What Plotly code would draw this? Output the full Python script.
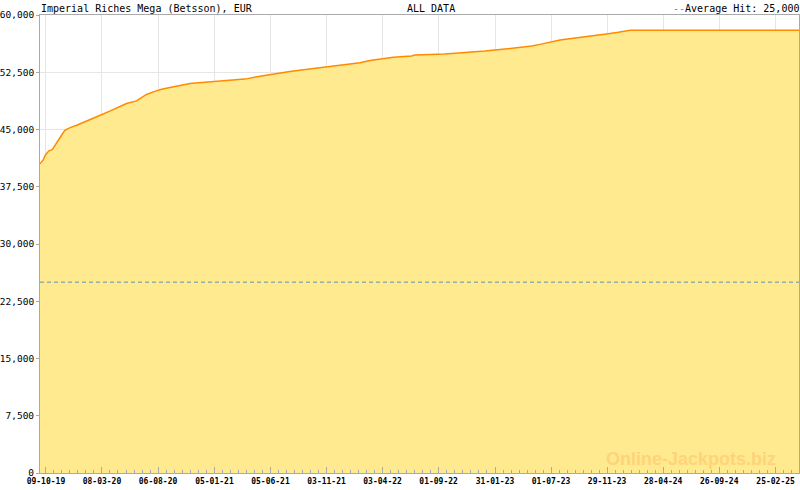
import plotly.graph_objects as go
import pandas as pd

dates = ["2019-09-23", "2019-10-02", "2019-10-08", "2019-10-17", "2019-10-26", "2019-11-02",
         "2019-11-11", "2019-11-20", "2019-11-29", "2019-12-13", "2019-12-31", "2020-01-27",
         "2020-02-23", "2020-03-03", "2020-03-29", "2020-04-25", "2020-05-13", "2020-06-09",
         "2020-06-18", "2020-07-06", "2020-07-24", "2020-08-16", "2020-09-07", "2020-10-04",
         "2020-10-31", "2020-12-02", "2021-01-06", "2021-02-20", "2021-03-28", "2021-05-08",
         "2021-06-04", "2021-07-01", "2021-07-27", "2021-08-28", "2021-10-03", "2021-11-03",
         "2021-11-30", "2022-01-05", "2022-02-01", "2022-02-28", "2022-03-27", "2022-05-02",
         "2022-06-20", "2022-06-29", "2022-09-18", "2022-11-02", "2022-12-03", "2023-01-04",
         "2023-01-31", "2023-03-03", "2023-03-30", "2023-04-22", "2023-05-10", "2023-06-01",
         "2023-06-28", "2023-07-07", "2023-07-25", "2023-08-30", "2023-09-30", "2023-11-01",
         "2023-12-02", "2023-12-29", "2024-01-21", "2024-01-30", "2025-04-29"]
jackpot = [40500, 41050, 41700, 42200, 42370, 42930, 43680, 44250, 44900, 45250, 45560, 46080,
           46650, 46870, 47400, 47960, 48400, 48750, 49060, 49590, 49930, 50280, 50510, 50810,
           51030, 51160, 51300, 51430, 51600, 51990, 52210, 52480, 52610, 52780, 53000, 53270,
           53440, 53610, 53740, 54050, 54220, 54450, 54620, 54750, 54880, 55010, 55140, 55270,
           55400, 55540, 55670, 55800, 55930, 56150, 56420, 56550, 56720, 56940, 57110, 57340,
           57550, 57730, 57900, 57990, 57990]
average_hit = 25000
x_ticks = ["2019-10-09", "2020-03-08", "2020-08-06", "2021-01-05", "2021-06-05", "2021-11-03",
           "2022-04-03", "2022-09-01", "2023-01-31", "2023-07-01", "2023-11-29", "2024-04-28",
           "2024-09-26", "2025-02-25"]
y_ticks = [0, 7500, 15000, 22500, 30000, 37500, 45000, 52500, 60000]
x_range = ["2019-09-23", "2025-04-29"]

# minor ticks: 7 subdivisions between major ticks
maj = pd.to_datetime(x_ticks)
minor_vals = []
for a, b in zip(maj[:-1], maj[1:]):
    for k in range(1, 7):
        minor_vals.append((a + (b - a) * k / 7).strftime("%Y-%m-%d %H:%M"))
step = (maj[-1] - maj[-2]) / 7
t = maj[-1] + step
while t <= pd.Timestamp(x_range[1]):
    minor_vals.append(t.strftime("%Y-%m-%d %H:%M"))
    t += step

FONT = "DejaVu Sans Mono"
GRID = "#e6e6e6"
AX = "#aaaaaa"
DASH = "#5a94b4"

fig = go.Figure()
fig.add_trace(go.Scatter(
    x=dates, y=jackpot, mode="lines", line=dict(color="#ff8a00", width=1.5, shape="linear"),
    fill="tozeroy", fillcolor="#ffea8f", hoverinfo="skip", showlegend=False))
fig.add_trace(go.Scatter(
    x=x_range, y=[average_hit, average_hit], mode="lines",
    line=dict(color=DASH, width=1, dash="4px,3px"), hoverinfo="skip", showlegend=False))

fig.update_layout(
    width=800, height=490,
    margin=dict(l=40, r=1, t=15, b=17, autoexpand=False),
    paper_bgcolor="white", plot_bgcolor="white",
    font=dict(family=FONT, size=10, color="#000"),
    xaxis=dict(
        type="date", range=x_range, tickmode="array", tickvals=x_ticks, tickformat="%d-%m-%y",
        showgrid=True, gridcolor=GRID, gridwidth=1, automargin=False,
        showline=True, linecolor=AX, linewidth=1, mirror=True,
        ticks="inside", ticklen=6, tickcolor=AX,
        tickfont=dict(family=FONT, size=8, weight="bold", color="#000"),
        minor=dict(tickmode="array", tickvals=minor_vals, ticks="inside", ticklen=3,
                   tickcolor=AX, showgrid=False),
        zeroline=False, fixedrange=True),
    yaxis=dict(
        range=[0, 60000], tickmode="array", tickvals=y_ticks, tickformat=",",
        showgrid=True, gridcolor=GRID, gridwidth=1, automargin=False,
        showline=True, linecolor=AX, linewidth=1, mirror=True,
        ticks="outside", ticklen=3, tickcolor=AX,
        tickfont=dict(family=FONT, size=9.5, color="#000"),
        zeroline=False, fixedrange=True),
    annotations=[
        dict(text="Imperial Riches Mega (Betsson), EUR", xref="paper", yref="paper",
             x=0, y=1, xanchor="left", yanchor="bottom", showarrow=False, xshift=-1, yshift=-1,
             font=dict(family=FONT, size=10, color="#000")),
        dict(text="ALL DATA", xref="paper", yref="paper",
             x=0.481, y=1, xanchor="left", yanchor="bottom", showarrow=False, yshift=-1,
             font=dict(family=FONT, size=10, color="#000")),
        dict(text=f"<span style='color:{DASH}'>--</span>Average Hit: 25,000", xref="paper",
             yref="paper", x=1, y=1, xanchor="right", yanchor="bottom", showarrow=False,
             yshift=-1, xshift=2, font=dict(family=FONT, size=10, color="#000")),
        dict(text="<b>Online-Jackpots.biz</b>", xref="paper", yref="paper",
             x=0.9723, y=0.031, xanchor="right", yanchor="middle", showarrow=False,
             font=dict(family="Liberation Sans", size=18, color="#ffd37a")),
    ],
)

fig.write_html("out.html", config={"displayModeBar": False},
               post_script="document.body.style.margin='0';document.body.style.overflow='hidden';")
